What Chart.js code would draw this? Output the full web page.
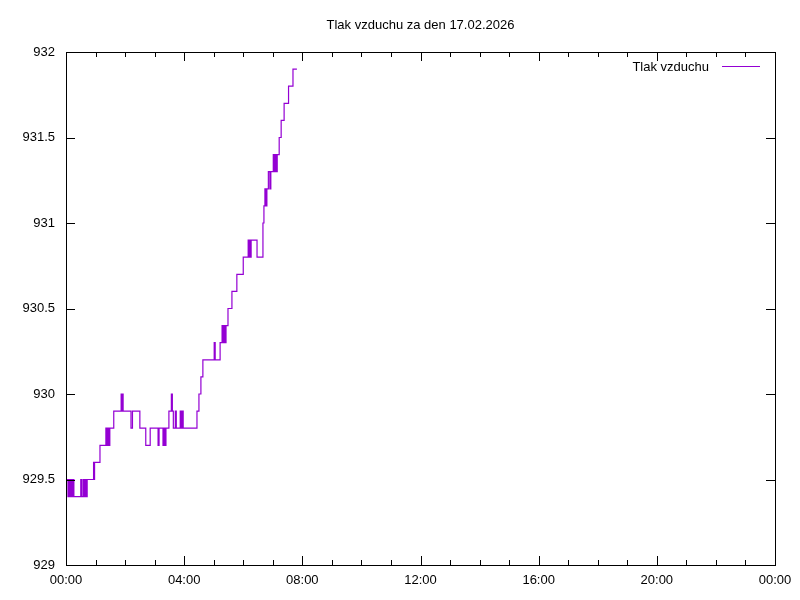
<!DOCTYPE html>
<html>
<head>
<meta charset="utf-8">
<script src="https://cdn.jsdelivr.net/npm/chart.js@4/dist/chart.umd.min.js"></script>
<style>
  html, body { margin: 0; padding: 0; background: #fff; }
</style>
</head>
<body>
<canvas id="graf" width="800" height="600"></canvas>
<script>
// Data - minuty od pulnoci a tlak v hPa
const minuty = [0, 4, 6, 8, 10, 12, 14, 16, 30, 32, 35, 37, 39, 41, 43,
  56, 57, 58, 69, 81, 83, 85, 87, 89, 97, 112, 114, 115, 116, 132, 135,
  150, 162, 171, 187, 189, 197, 199, 201, 203, 209, 214, 216, 218, 222,
  224, 232, 234, 236, 238, 266, 270, 274, 278, 301, 303, 313, 317, 319,
  321, 323, 325, 329, 337, 347, 360, 370, 372, 374, 375, 376, 388, 400,
  402, 404, 406, 408, 411, 414, 416, 421, 423, 425, 427, 429, 433, 437,
  443, 452, 461, 469];
const tlak = [929.5, 929.4, 929.5, 929.4, 929.5, 929.4, 929.5, 929.4, 929.5, 929.4, 929.5, 929.4, 929.5, 929.4, 929.5,
  929.6, 929.5, 929.6, 929.7, 929.8, 929.7, 929.8, 929.7, 929.8, 929.9, 930.0, 929.9, 930.0, 929.9, 929.8, 929.9,
  929.8, 929.7, 929.8, 929.7, 929.8, 929.7, 929.8, 929.7, 929.8, 929.9, 930.0, 929.9, 929.8, 929.9,
  929.8, 929.9, 929.8, 929.9, 929.8, 929.9, 930.0, 930.1, 930.2, 930.3, 930.2, 930.3, 930.4, 930.3,
  930.4, 930.3, 930.4, 930.5, 930.6, 930.7, 930.8, 930.9, 930.8, 930.9, 930.8, 930.9, 930.8, 931.0,
  931.1, 931.2, 931.1, 931.2, 931.3, 931.2, 931.3, 931.4, 931.3, 931.4, 931.3, 931.4, 931.5, 931.6,
  931.7, 931.8, 931.9, 931.9];
const nazev = 'Tlak vzduchu za den 17.02.2026';
const popisek = 'Tlak vzduchu';
const yMin = 929, yMax = 932, yKrok = 0.5;
const xMin = 0, xMax = 1440;

const barva = '#9400d3';
const pismo = '"Liberation Sans", Arial, sans-serif';

function hhmm(m) {
  const h = Math.floor(m / 60) % 24;
  const mm = m % 60;
  return String(h).padStart(2, '0') + ':' + String(mm).padStart(2, '0');
}

// ramecek, carky dovnitr a legenda jako v gnuplotu
const ramecek = {
  id: 'ramecek',
  afterDraw(chart) {
    const c = chart.ctx;
    const a = chart.chartArea;
    const sx = chart.scales.x, sy = chart.scales.y;
    c.save();
    c.strokeStyle = '#000';
    c.lineWidth = 1;
    c.strokeRect(Math.round(a.left) + 0.5, Math.round(a.top) + 0.5,
      Math.round(a.right - a.left), Math.round(a.bottom - a.top));
    c.beginPath();
    sx.ticks.forEach(t => {
      const x = Math.round(sx.getPixelForValue(t.value)) + 0.5;
      const d = t.value % 240 === 0 ? 9 : 5;
      c.moveTo(x, a.bottom); c.lineTo(x, a.bottom - d);
      c.moveTo(x, a.top); c.lineTo(x, a.top + d);
    });
    sy.ticks.forEach(t => {
      const y = Math.round(sy.getPixelForValue(t.value)) + 0.5;
      c.moveTo(a.left, y); c.lineTo(a.left + 9, y);
      c.moveTo(a.right, y); c.lineTo(a.right - 9, y);
    });
    c.stroke();
    // legenda
    c.font = '13px ' + pismo;
    c.fillStyle = '#000';
    c.textAlign = 'right';
    c.textBaseline = 'middle';
    c.fillText(popisek, 709, 67);
    c.strokeStyle = barva;
    c.beginPath();
    c.moveTo(722, 66.5); c.lineTo(760, 66.5);
    c.stroke();
    c.restore();
  }
};

const ctx = document.getElementById('graf');
new Chart(ctx, {
  type: 'line',
  data: {
    datasets: [{
      label: popisek,
      data: minuty.map((m, i) => ({ x: m, y: tlak[i] })),
      borderColor: barva,
      borderWidth: 1.2,
      pointRadius: 0,
      stepped: 'before',
      fill: false
    }]
  },
  options: {
    responsive: false,
    animation: false,
    devicePixelRatio: 1,
    layout: { padding: { left: 0, right: 25, top: 0, bottom: 0 } },
    scales: {
      x: {
        type: 'linear',
        min: xMin,
        max: xMax,
        grid: { display: false, drawTicks: false },
        border: { display: false },
        afterFit: s => { s.height = 35; },
        ticks: {
          stepSize: 60,
          autoSkip: false,
          maxRotation: 0,
          padding: 8,
          color: '#000',
          font: { size: 13, family: pismo },
          callback: v => (v % 240 === 0 ? hhmm(v) : '')
        }
      },
      y: {
        min: yMin,
        max: yMax,
        grid: { display: false, drawTicks: false },
        border: { display: false },
        afterFit: s => { s.width = 66; },
        ticks: {
          stepSize: yKrok,
          padding: 11,
          color: '#000',
          font: { size: 13, family: pismo },
          callback: v => String(+v.toFixed(1))
        }
      }
    },
    plugins: {
      legend: { display: false },
      tooltip: { enabled: false },
      title: {
        display: true,
        fullSize: false,
        text: nazev,
        color: '#000',
        font: { size: 13, weight: 'normal', family: pismo },
        padding: { top: 17.5, bottom: 18.9 }
      }
    }
  },
  plugins: [ramecek]
});
</script>
</body>
</html>
